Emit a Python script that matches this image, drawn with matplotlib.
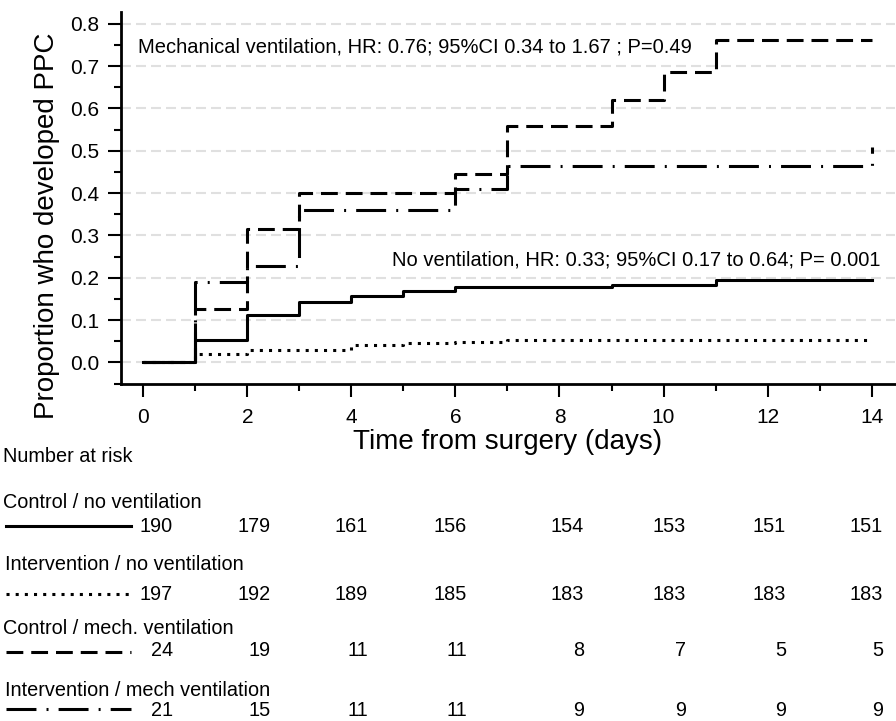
import matplotlib.pyplot as plt
import matplotlib.transforms as mtransforms
from matplotlib.ticker import MultipleLocator

plt.rcParams['font.family'] = ['Liberation Sans', 'DejaVu Sans']

# cumulative proportion with PPC (step curves)
t_ctrl_nov = [0, 1, 2, 3, 4, 5, 6, 9, 11, 14]
p_ctrl_nov = [0, 0.053, 0.112, 0.142, 0.158, 0.168, 0.178, 0.184, 0.194, 0.194]
t_int_nov = [0, 1, 2, 4, 5, 6, 7, 14]
p_int_nov = [0, 0.019, 0.029, 0.042, 0.045, 0.048, 0.052, 0.052]
t_ctrl_mech = [0, 1, 2, 3, 6, 7, 9, 10, 11, 14]
p_ctrl_mech = [0, 0.127, 0.316, 0.400, 0.446, 0.558, 0.620, 0.687, 0.762, 0.762]
t_int_mech = [0, 1, 2, 3, 6, 7, 14]
p_int_mech = [0, 0.190, 0.227, 0.360, 0.410, 0.464, 0.508]

group_names = ['Control / no ventilation', 'Intervention / no ventilation',
               'Control / mech. ventilation', 'Intervention / mech ventilation']
risk_ctrl_nov = [190, 179, 161, 156, 154, 153, 151, 151]
risk_int_nov = [197, 192, 189, 185, 183, 183, 183, 183]
risk_ctrl_mech = [24, 19, 11, 11, 8, 7, 5, 5]
risk_int_mech = [21, 15, 11, 11, 9, 9, 9, 9]

W, H = 896, 721
fig = plt.figure(figsize=(W / 100, H / 100), dpi=100)
ax = fig.add_axes([121 / W, 1 - 384 / H, 774 / W, 372 / H])

lw = 2.2
styles = [
    dict(ls='-'),
    dict(ls=(0, (1.0, 2.0))),
    dict(ls=(0, (5.5, 2.6))),
    dict(ls=(0, (9.8, 3.3, 0.65, 3.3))),
]
series = [(t_ctrl_nov, p_ctrl_nov), (t_int_nov, p_int_nov),
          (t_ctrl_mech, p_ctrl_mech), (t_int_mech, p_int_mech)]
zo = [5, 4, 3, 2]
for (t, p), st, z in zip(series, styles, zo):
    ax.step(t, p, where='post', color='black', lw=lw, zorder=z, **st)

for yv in [i / 10 for i in range(9)]:
    ax.axhline(yv, color='#e0e0e0', lw=1.5, ls=(0, (4.8, 2.4)), zorder=0)

ax.set_xlim(-0.43, 14.45)
ax.set_ylim(-0.051, 0.828)
ax.set_xticks(range(0, 15, 2))
ax.xaxis.set_minor_locator(MultipleLocator(1))
ax.set_yticks([i / 10 for i in range(9)])
ax.set_yticklabels([f'{i / 10:.1f}' for i in range(9)])
ax.yaxis.set_minor_locator(MultipleLocator(0.05))
ax.tick_params(axis='both', which='major', direction='out', length=9.5, width=1.5,
               labelsize=15)
ax.tick_params(axis='both', which='minor', direction='out', length=5, width=1.5)
ax.tick_params(axis='x', which='major', pad=8)
ax.tick_params(axis='y', which='major', pad=6)
for s in ['top', 'right']:
    ax.spines[s].set_visible(False)
for s in ['left', 'bottom']:
    ax.spines[s].set_linewidth(2)

ax.set_ylabel('Proportion who developed PPC', fontsize=20)
ax.yaxis.set_label_coords(-0.079, 0.425)
ax.set_xlabel('Time from surgery (days)', fontsize=20, labelpad=1)

ax.text(-0.106, 0.746, 'Mechanical ventilation, HR: 0.76; 95%CI 0.34 to 1.67 ; P=0.49',
        fontsize=14.5, va='center', ha='left')
ax.text(14.18, 0.242, 'No ventilation, HR: 0.33; 95%CI 0.17 to 0.64; P= 0.001',
        fontsize=14.5, va='center', ha='right')

# number at risk table
def fy(py):
    return 1 - py / H

fig.text(3 / W, fy(456), 'Number at risk', fontsize=14.3, va='center')
label_x = [3, 5, 3, 5]
label_y = [502, 565, 628, 690]
num_y = [527, 595, 651, 711]
line_y = [526, 594, 652, 709]
col_x = [0.567, 2.452, 4.317, 6.221, 8.471, 10.433, 12.356, 14.221]
risks = [risk_ctrl_nov, risk_int_nov, risk_ctrl_mech, risk_int_mech]
trans = mtransforms.blended_transform_factory(ax.transData, fig.transFigure)
for name, lx, ly, ny, liy, st, r in zip(group_names, label_x, label_y, num_y,
                                         line_y, styles, risks):
    fig.text(lx / W, fy(ly), name, fontsize=14.3, va='center')
    fig.add_artist(plt.Line2D([6 / W, 131 / W], [fy(liy), fy(liy)], color='black',
                              lw=lw, transform=fig.transFigure, **st))
    for x, n in zip(col_x, r):
        fig.text(x, fy(ny), str(n), fontsize=14.3, va='center', ha='right',
                 transform=trans)

fig.savefig('out.png', dpi=100)
